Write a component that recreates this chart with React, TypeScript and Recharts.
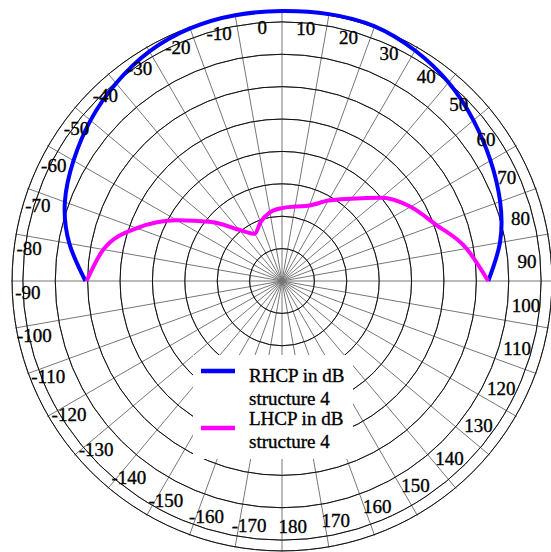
import React from 'react';
import { RadarChart, Radar, PolarGrid, PolarAngleAxis, PolarRadiusAxis, Legend, Curve } from 'recharts';

// angle tick labels, clockwise from the top
const ANGLE_LABELS = [
  -170, -160, -150, -140, -130, -120, -110, -100, -90, -80, -70, -60, -50, -40, -30, -20, -10,
  0, 10, 20, 30, 40, 50, 60, 70, 80, 90, 100, 110, 120, 130, 140, 150, 160, 170, 180,
];

// measured half plane
const FRONT_ANGLES = [-90, -80, -70, -60, -50, -40, -30, -20, -10, 0, 10, 20, 30, 40, 50, 60, 70, 80, 90];
const RHCP_DB = [-3.6, 0.0, 2.8, 4.6, 6.3, 7.8, 9.1, 9.8, 10.0, 10.0, 10.2, 10.2, 9.3, 8.0, 6.3, 4.6, 3.0, 1.0, -1.8];
const LHCP_DB = [-3.8, -6.4, -11.4, -17.5, -23.0, -27.6, -29.9, -28.4, -27.1, -26.5, -26.0, -25.1, -22.8, -20.1, -16.0, -12.5, -9.6, -5.3, -1.8];

const SERIES_NAMES = ['RHCP in dB', 'LHCP in dB'];
const SUBTITLE = 'structure 4';

const CX = 282;
const CY = 281;
const FONT = 'Liberation Serif, Times New Roman, serif';
const TEXT_STYLE = { fontFamily: FONT, fontSize: 19, fill: '#000', stroke: '#000', strokeWidth: 0.35 };

const data = ANGLE_LABELS.map((a) => {
  const i = FRONT_ANGLES.indexOf(a);
  return { angle: String(a), rhcp: i >= 0 ? RHCP_DB[i] : null, lhcp: i >= 0 ? LHCP_DB[i] : null };
});

// open trace instead of closed polygon
const OpenTrace = (props: any) => {
  const pts = (props.points || []).filter((p: any) => p.value != null && Number.isFinite(p.x) && Number.isFinite(p.y));
  const kind = props.dataKey === 'lhcp' ? 'monotoneX' : 'natural';
  return <Curve type={kind} points={pts} stroke={props.stroke} strokeWidth={props.strokeWidth} fill="none" />;
};

// labels sit a little counter-clockwise of their spoke, on a slightly shifted ring
const AngleTick = (props: any) => {
  const { x, y, payload } = props;
  const dx = x - CX;
  const dy = y - CY;
  const r = Math.hypot(dx, dy);
  const a = Math.atan2(dy, dx) - (3.5 * Math.PI) / 180;
  return (
    <text
      x={CX - 4.5 + r * Math.cos(a)}
      y={CY - 4 + r * Math.sin(a)}
      textAnchor="middle"
      dominantBaseline="central"
      style={TEXT_STYLE}
    >
      {payload.value}
    </text>
  );
};

const LegendBox = (props: any) => {
  const items = [...(props.payload || [])].sort(
    (a: any, b: any) => SERIES_NAMES.indexOf(a.value) - SERIES_NAMES.indexOf(b.value)
  );
  const rows = [
    { mark: 16, t1: 27, t2: 50 },
    { mark: 73, t1: 70, t2: 93 },
  ];
  return (
    <svg width={160} height={104} style={{ display: 'block', background: '#fff' }}>
      {items.map((it: any, i: number) => (
        <g key={it.value}>
          <line x1={8} x2={42} y1={rows[i].mark} y2={rows[i].mark} stroke={it.color} strokeWidth={4.5} />
          <text x={56} y={rows[i].t1} style={TEXT_STYLE}>{it.value}</text>
          <text x={56} y={rows[i].t2} style={TEXT_STYLE}>{SUBTITLE}</text>
        </g>
      ))}
    </svg>
  );
};

export default function App() {
  return (
    <div style={{ position: 'absolute', left: 0, top: 0, width: 551, height: 552, background: '#fff' }}>
      <RadarChart
        width={551}
        height={552}
        data={data}
        cx={CX}
        cy={CY}
        outerRadius={271}
        startAngle={260}
        endAngle={-100}
        margin={{ top: 0, right: 0, bottom: 0, left: 0 }}
      >
        <PolarGrid gridType="circle" stroke="#777" strokeWidth={1} />
        <PolarGrid gridType="circle" radialLines={false} stroke="#111" strokeWidth={1} />
        <PolarAngleAxis
          dataKey="angle"
          orientation="inner"
          tickSize={21}
          axisLine={false}
          tickLine={false}
          tick={<AngleTick />}
        />
        <PolarRadiusAxis domain={[-40, 10]} tickCount={11} tick={false} axisLine={false} />
        <Radar
          name={SERIES_NAMES[0]}
          dataKey="rhcp"
          stroke="#0000ff"
          strokeWidth={4}
          fill="none"
          dot={false}
          shape={OpenTrace}
          isAnimationActive={false}
        />
        <Radar
          name={SERIES_NAMES[1]}
          dataKey="lhcp"
          stroke="#ff00ff"
          strokeWidth={4}
          fill="none"
          dot={false}
          shape={OpenTrace}
          isAnimationActive={false}
        />
        <Legend
          layout="vertical"
          align="center"
          verticalAlign="middle"
          content={<LegendBox />}
          wrapperStyle={{ left: 193, top: 355, width: 160 }}
        />
      </RadarChart>
    </div>
  );
}
